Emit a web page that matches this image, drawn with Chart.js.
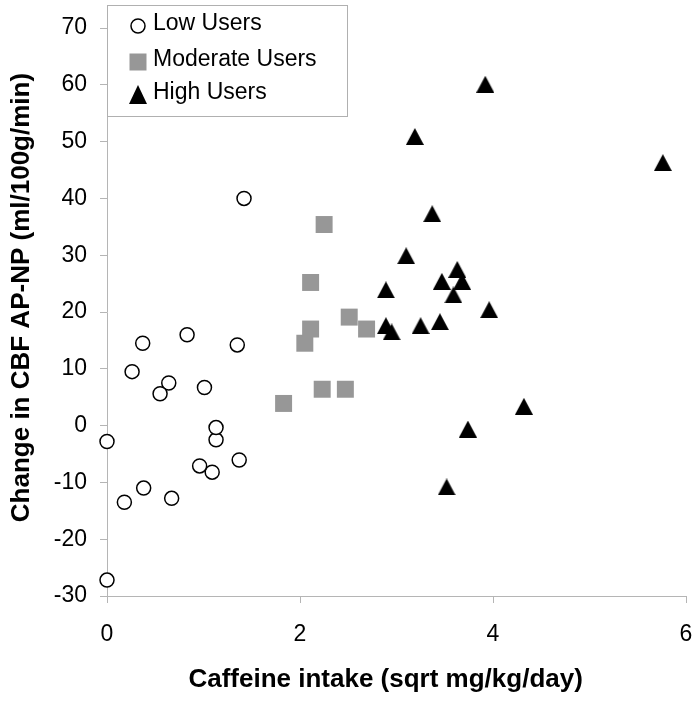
<!DOCTYPE html>
<html>
<head>
<meta charset="utf-8">
<script src="https://cdn.jsdelivr.net/npm/chart.js@4"></script>
<style>
  html, body { margin: 0; padding: 0; background: #fff; }
  #wrap { width: 700px; height: 703px; }
</style>
</head>
<body>
<div id="wrap"><canvas id="myChart"></canvas></div>
<script>
// values
const lowX = [0, 0, 0.18, 0.26, 0.37, 0.38, 0.64, 0.55, 0.67, 0.83, 1.09, 0.96, 1.01, 1.13, 1.13, 1.35, 1.37, 1.42];
const lowY = [-2.8, -27.2, -13.5, 9.5, 14.5, -11.0, 7.5, 5.6, -12.8, 16.0, -8.2, -7.1, 6.7, -2.5, -0.35, 14.2, -6.05, 40.0];

const modX = [1.83, 2.05, 2.11, 2.11, 2.23, 2.25, 2.47, 2.51, 2.69];
const modY = [3.9, 14.5, 17.0, 25.2, 6.4, 35.4, 6.4, 19.1, 17.0];

const highX = [3.92, 3.19, 5.76, 3.37, 3.10, 3.63, 3.68, 3.47, 3.59, 2.89, 3.96, 2.89, 2.95, 3.25, 3.45, 4.32, 3.74, 3.52];
const highY = [60.1, 50.9, 46.3, 37.3, 29.9, 27.5, 25.4, 25.4, 23.0, 23.9, 20.4, 17.6, 16.5, 17.6, 18.3, 3.4, -0.6, -10.8];

const seriesNames = ['Low Users', 'Moderate Users', 'High Users'];
const xTicks = [0, 2, 4, 6];
const yTicks = [-30, -20, -10, 0, 10, 20, 30, 40, 50, 60, 70];

const FONT = '"Liberation Sans", Arial, Helvetica, sans-serif';
const axisGrey = '#b5b5b5';

function toPoints(xs, ys) {
    return xs.map((x, i) => ({ x: x, y: ys[i] }));
}

// Excel-like triangle marker (centred on its bounding box)
function makeTriangle(w, h) {
    const cv = document.createElement('canvas');
    cv.width = w;
    cv.height = h;
    const t = cv.getContext('2d');
    t.fillStyle = '#000';
    t.beginPath();
    t.moveTo(w / 2, 0);
    t.lineTo(w, h);
    t.lineTo(0, h);
    t.closePath();
    t.fill();
    return cv;
}
const tri = makeTriangle(18, 17);
const legendTri = makeTriangle(18, 19);

// legend drawn as a boxed key in the top left corner
const legendBox = {
    id: 'legendBox',
    afterDraw(c) {
        const ctx = c.ctx;
        const left = c.chartArea.left;
        ctx.save();
        ctx.strokeStyle = '#b0b0b0';
        ctx.lineWidth = 1;
        ctx.fillStyle = '#fff';
        ctx.fillRect(left + 0.5, 5.5, 240, 111);
        ctx.strokeRect(left + 0.5, 5.5, 240, 111);

        const mx = left + 31;
        // circle
        ctx.beginPath();
        ctx.arc(mx, 26, 7, 0, Math.PI * 2);
        ctx.fillStyle = '#fff';
        ctx.fill();
        ctx.lineWidth = 1.5;
        ctx.strokeStyle = '#000';
        ctx.stroke();
        // square
        ctx.fillStyle = '#979797';
        ctx.fillRect(mx - 8.5, 53.5, 17, 17);
        // triangle
        ctx.drawImage(legendTri, mx - 9, 85);

        ctx.font = '23px ' + FONT;
        ctx.fillStyle = '#000';
        ctx.textBaseline = 'middle';
        ctx.textAlign = 'left';
        const rowY = [24, 60, 93];
        seriesNames.forEach((name, i) => ctx.fillText(name, left + 46, rowY[i]));
        ctx.restore();
    }
};

const ctx = document.getElementById('myChart').getContext('2d');
const chart = new Chart(ctx, {
    type: 'scatter',
    data: {
        datasets: [
            {
                label: seriesNames[0],
                data: toPoints(lowX, lowY),
                pointStyle: 'circle',
                pointRadius: 7,
                pointBorderWidth: 1.5,
                borderColor: '#000',
                backgroundColor: '#fff',
                clip: false,
                order: 2
            },
            {
                label: seriesNames[1],
                data: toPoints(modX, modY),
                pointStyle: 'rect',
                pointRadius: 12,
                pointBorderWidth: 0,
                borderColor: '#979797',
                backgroundColor: '#979797',
                clip: false,
                order: 1
            },
            {
                label: seriesNames[2],
                data: toPoints(highX, highY),
                pointStyle: tri,
                pointRadius: 9,
                borderColor: '#000',
                backgroundColor: '#000',
                clip: false,
                order: 0
            }
        ]
    },
    options: {
        responsive: true,
        maintainAspectRatio: false,
        animation: false,
        layout: { padding: { top: 28, right: 14, left: 0, bottom: 0 } },
        plugins: {
            legend: { display: false },
            tooltip: { enabled: false }
        },
        scales: {
            x: {
                type: 'linear',
                min: 0,
                max: 6,
                afterFit: (s) => { s.height = 107; s.paddingLeft = 0; s.paddingRight = 0; },
                afterBuildTicks: (s) => { s.ticks = xTicks.map(v => ({ value: v })); },
                ticks: {
                    color: '#000',
                    padding: 18,
                    font: { family: FONT, size: 23 }
                },
                grid: {
                    drawOnChartArea: false,
                    drawTicks: true,
                    tickLength: 7,
                    color: axisGrey
                },
                border: { display: true, color: axisGrey },
                title: {
                    display: true,
                    text: 'Caffeine intake (sqrt mg/kg/day)   ',
                    color: '#000',
                    font: { family: FONT, size: 26, weight: 'bold' },
                    padding: { top: 8, bottom: 8 }
                }
            },
            y: {
                type: 'linear',
                min: -30,
                max: 70,
                afterFit: (s) => { s.width = 107; s.paddingTop = 0; s.paddingBottom = 0; },
                afterBuildTicks: (s) => { s.ticks = yTicks.map(v => ({ value: v })); },
                ticks: {
                    color: '#000',
                    padding: 13,
                    font: { family: FONT, size: 23 }
                },
                grid: {
                    drawOnChartArea: false,
                    drawTicks: true,
                    tickLength: 7,
                    color: axisGrey
                },
                border: { display: true, color: axisGrey },
                title: {
                    display: true,
                    text: '    Change in CBF AP-NP (ml/100g/min)',
                    color: '#000',
                    font: { family: FONT, size: 26, weight: 'bold' },
                    padding: { top: 6, bottom: 6 }
                }
            }
        }
    },
    plugins: [legendBox]
});
</script>
</body>
</html>
